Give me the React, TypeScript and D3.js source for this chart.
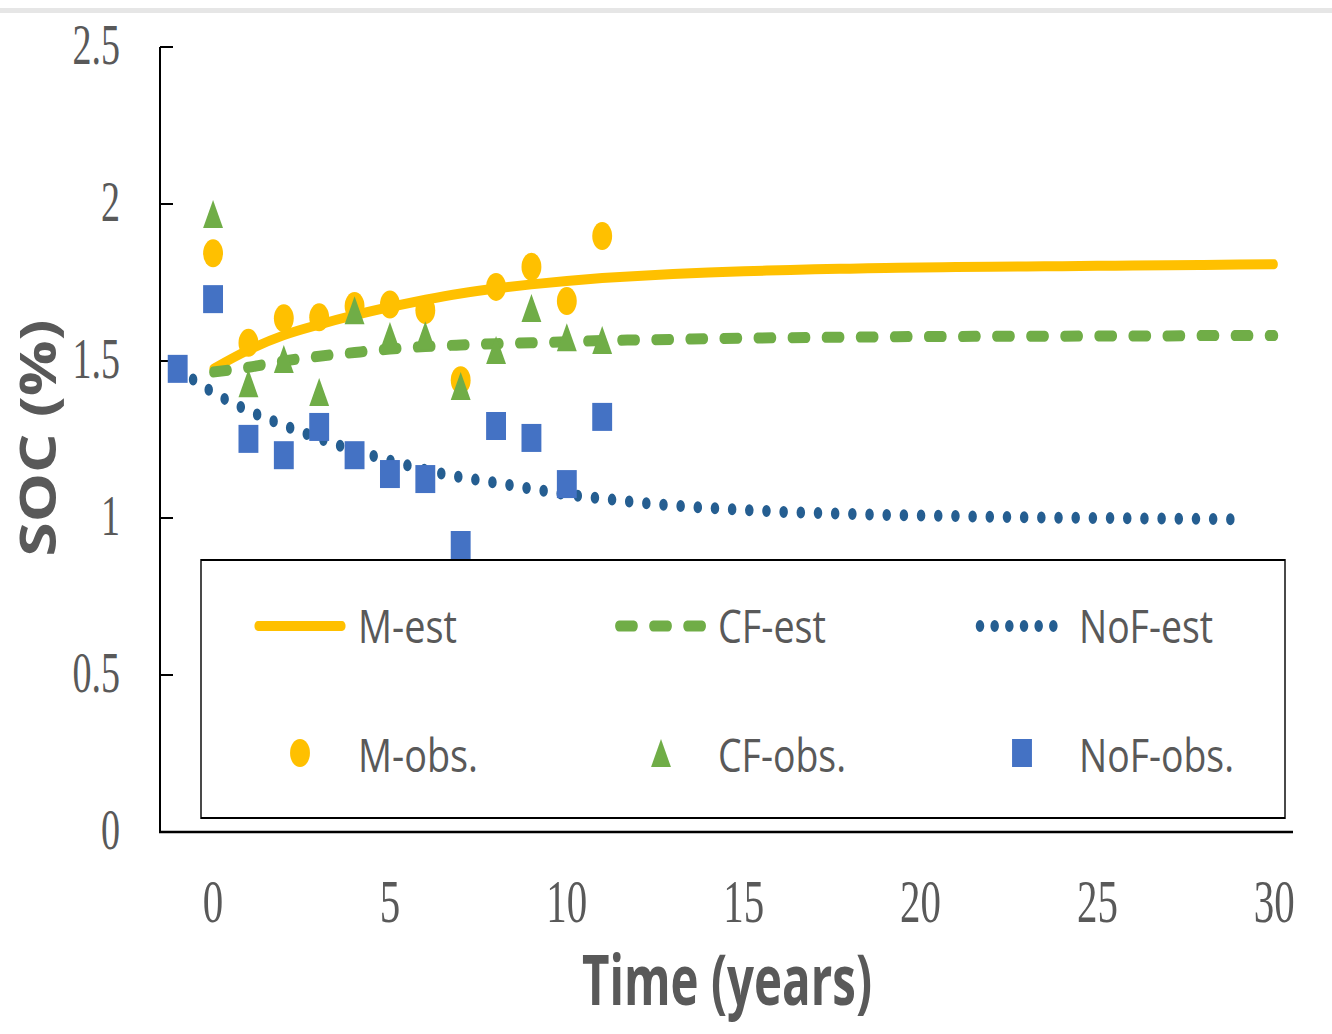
import React from 'react';
import * as d3 from 'd3';

// ---------- data ----------
const estYears = [0, 1, 2, 3, 4, 5, 6, 7, 8, 9, 10, 11, 12, 13, 14, 15, 16, 17, 18, 19, 20, 21, 22, 23, 24, 25, 26, 27, 28, 29, 30];
const mEst = [1.475, 1.535, 1.582, 1.616, 1.646, 1.672, 1.695, 1.715, 1.731, 1.744, 1.755, 1.764, 1.771, 1.777, 1.782, 1.786, 1.789, 1.792, 1.794, 1.796, 1.798, 1.799, 1.8, 1.801, 1.802, 1.803, 1.804, 1.805, 1.806, 1.807, 1.808];
const cfEst = [1.465, 1.48, 1.5, 1.515, 1.527, 1.538, 1.546, 1.551, 1.555, 1.558, 1.561, 1.565, 1.567, 1.569, 1.571, 1.573, 1.574, 1.575, 1.576, 1.577, 1.578, 1.578, 1.579, 1.579, 1.579, 1.58, 1.58, 1.58, 1.581, 1.581, 1.581];
const nofYears = [-1, 0, 1, 2, 3, 4, 5, 6, 7, 8, 9, 10, 11, 12, 13, 14, 15, 16, 17, 18, 19, 20, 21, 22, 23, 24, 25, 26, 27, 28, 29];
const nofEst = [1.475, 1.4, 1.342, 1.295, 1.253, 1.215, 1.183, 1.153, 1.13, 1.112, 1.093, 1.075, 1.062, 1.05, 1.04, 1.032, 1.026, 1.02, 1.016, 1.013, 1.01, 1.008, 1.006, 1.004, 1.002, 1.001, 1.0, 0.999, 0.998, 0.997, 0.996];

const obsYears = [0, 1, 2, 3, 4, 5, 6, 7, 8, 9, 10, 11];
const mObs = [1.843, 1.558, 1.636, 1.639, 1.675, 1.68, 1.662, 1.439, 1.736, 1.8, 1.691, 1.898];
const cfObs = [1.968, 1.429, 1.506, 1.401, 1.662, 1.58, 1.582, 1.42, 1.535, 1.669, 1.576, 1.567];
const nofObsYears = [-1, 0, 1, 2, 3, 4, 5, 6, 7, 8, 9, 10, 11];
const nofObs = [1.475, 1.697, 1.252, 1.2, 1.29, 1.2, 1.14, 1.124, 0.914, 1.293, 1.255, 1.108, 1.322];

const xTicks = [0, 5, 10, 15, 20, 25, 30];
const yTicks = [0, 0.5, 1, 1.5, 2, 2.5];
const yTickLabels = ['0', '0.5', '1', '1.5', '2', '2.5'];

const legendLabels = ['M-est', 'CF-est', 'NoF-est', 'M-obs.', 'CF-obs.', 'NoF-obs.'];

// ---------- style ----------
const W = 1332;
const H = 1034;
const SX = 0.71; // horizontal squash of the original picture
const GRAY = '#595959';
const YELLOW = '#FFC000';
const GREEN = '#70AD47';
const BLUE = '#4472C4';
const DARKBLUE = '#255E91';

export default function App() {
  const x = d3.scaleLinear().domain([-1.5, 30.5]).range([160, 1292]);
  const y = d3.scaleLinear().domain([0, 2.5]).range([832, 47]);
  const xq = (v: number) => x(v) / SX;

  const mkLine = (xs: number[], ys: number[]) =>
    d3
      .line<number>()
      .x((_, i) => xq(xs[i]))
      .y((d) => y(d))
      .curve(d3.curveMonotoneX)(ys) as string;

  const circle = (cx: number, cy: number, key: string) => (
    <circle key={key} cx={cx} cy={cy} r={14} fill={YELLOW} />
  );
  const tri = (cx: number, cy: number, key: string) => (
    <path key={key} d={`M${cx},${cy - 14}L${cx + 14},${cy + 14}L${cx - 14},${cy + 14}Z`} fill={GREEN} />
  );
  const sq = (cx: number, cy: number, key: string) => (
    <rect key={key} x={cx - 14} y={cy - 14} width={28} height={28} fill={BLUE} />
  );

  const serif = '"Liberation Serif", "Times New Roman", serif';
  const sans = '"Open Sans", "Noto Sans", sans-serif';

  // legend geometry (screen px)
  const lgRow1 = 626;
  const lgRow2 = 753;
  const lgTextX = [358, 718, 1079];
  const lgTextW = [99, 108, 134, 120, 128, 155];

  return (
    <svg
      width={W}
      height={H}
      style={{ position: 'absolute', left: 0, top: 0, background: '#fff' }}
      xmlns="http://www.w3.org/2000/svg"
    >
      <rect x={0} y={0} width={W} height={H} fill="#fff" />
      <rect x={0} y={8} width={W} height={5} fill="#e6e6e6" />

      {/* axes */}
      <line x1={160} y1={y(2.5)} x2={160} y2={832} stroke="#000" strokeWidth={2} />
      <line x1={159} y1={832} x2={1293} y2={832} stroke="#000" strokeWidth={2.5} />
      {yTicks.map((t) => (
        <line key={'yt' + t} x1={160} x2={173} y1={y(t)} y2={y(t)} stroke="#000" strokeWidth={2} />
      ))}

      {/* y tick labels */}
      {yTicks.map((t, i) => (
        <text
          key={'yl' + t}
          transform={`translate(120,${y(t) + 17}) scale(0.68,1)`}
          textAnchor="end"
          fontFamily={serif}
          fontSize={56}
          fill={GRAY}
        >
          {yTickLabels[i]}
        </text>
      ))}
      {/* x tick labels */}
      {xTicks.map((t) => (
        <text
          key={'xl' + t}
          transform={`translate(${x(t)},922) scale(0.66,1)`}
          textAnchor="middle"
          fontFamily={serif}
          fontSize={62}
          fill={GRAY}
        >
          {t}
        </text>
      ))}

      {/* axis titles */}
      <text
        x={727}
        y={1005}
        textAnchor="middle"
        fontFamily={sans}
        fontWeight="bold"
        fontSize={70}
        fill={GRAY}
        textLength={290}
        lengthAdjust="spacingAndGlyphs"
      >
        Time (years)
      </text>
      <text
        transform={`translate(56,438) scale(${SX},1) rotate(-90)`}
        textAnchor="middle"
        fontFamily={sans}
        fontWeight="bold"
        fontSize={70}
        fill={GRAY}
        textLength={237}
        lengthAdjust="spacingAndGlyphs"
      >
        SOC (%)
      </text>

      {/* plot content in squashed coordinates */}
      <g transform={`scale(${SX},1)`}>
        <path d={mkLine(estYears, mEst)} fill="none" stroke={YELLOW} strokeWidth={10} strokeLinecap="round" />
        <path
          d={mkLine(estYears, cfEst)}
          fill="none"
          stroke={GREEN}
          strokeWidth={11}
          strokeLinecap="round"
          strokeDasharray="21 27"
        />
        <path
          d={mkLine(nofYears, nofEst)}
          fill="none"
          stroke={DARKBLUE}
          strokeWidth={12}
          strokeLinecap="round"
          strokeDasharray="0 24.2"
        />
        {mObs.map((v, i) => circle(xq(obsYears[i]), y(v), 'm' + i))}
        {cfObs.map((v, i) => tri(xq(obsYears[i]), y(v), 'c' + i))}
        {nofObs.map((v, i) => sq(xq(nofObsYears[i]), y(v), 'n' + i))}

        {/* legend box */}
        <rect x={201 / SX} y={560} width={(1285 - 201) / SX} height={258} fill="#fff" stroke="#000" strokeWidth={2} />
        <line x1={258 / SX} x2={342 / SX} y1={lgRow1} y2={lgRow1} stroke={YELLOW} strokeWidth={10} strokeLinecap="round" />
        <line
          x1={619 / SX}
          x2={705 / SX}
          y1={lgRow1}
          y2={lgRow1}
          stroke={GREEN}
          strokeWidth={11}
          strokeLinecap="round"
          strokeDasharray="21 27"
        />
        <line
          x1={980 / SX}
          x2={1068 / SX}
          y1={lgRow1}
          y2={lgRow1}
          stroke={DARKBLUE}
          strokeWidth={12}
          strokeLinecap="round"
          strokeDasharray="0 20.66"
        />
        {circle(300 / SX, lgRow2, 'lg1')}
        {tri(661 / SX, lgRow2, 'lg2')}
        {sq(1022 / SX, lgRow2, 'lg3')}
      </g>

      {/* legend labels */}
      {legendLabels.map((l, i) => (
        <text
          key={l}
          x={lgTextX[i % 3]}
          y={i < 3 ? 643 : 772}
          fontFamily={sans}
          fontSize={46}
          fill={GRAY}
          textLength={lgTextW[i]}
          lengthAdjust="spacingAndGlyphs"
        >
          {l}
        </text>
      ))}
    </svg>
  );
}
